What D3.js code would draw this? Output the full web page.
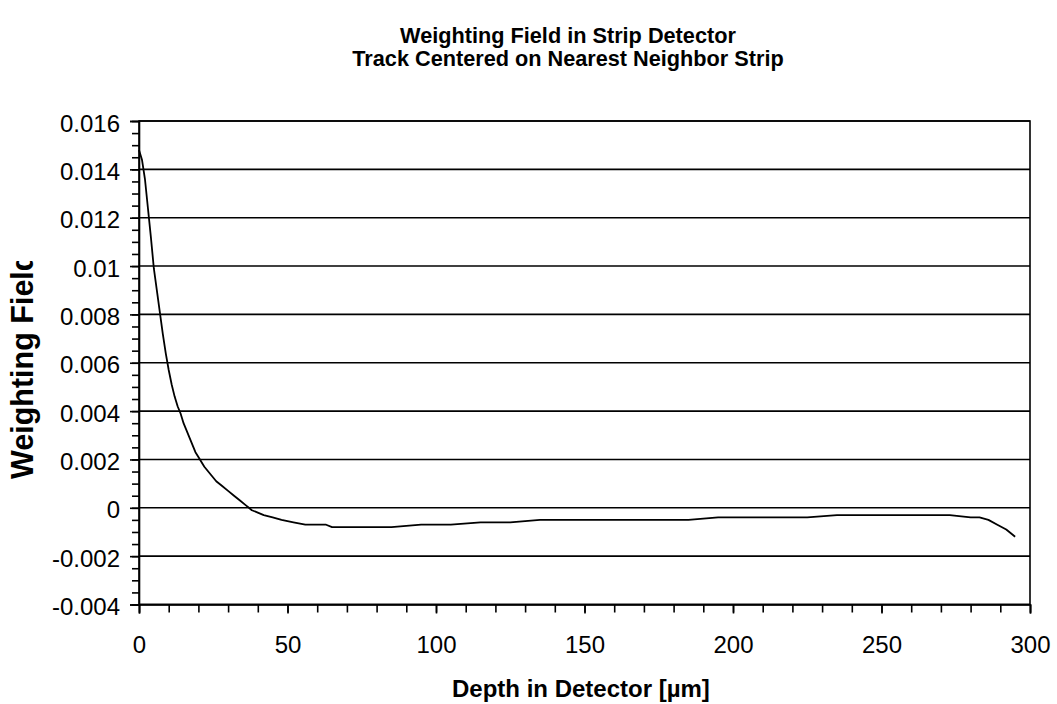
<!DOCTYPE html>
<html lang="en">
<head>
    <meta charset="UTF-8">
    <title>Weighting Field in Strip Detector</title>
    <script src="https://d3js.org/d3.v7.min.js"></script>
    <style>
        body { margin: 0; background: #fff; }
        text { font-family: Arial, 'Liberation Sans', sans-serif; fill: #000; }
        text.title { font-weight: bold; font-size: 21.7px; text-anchor: middle; }
        text.axis-label { font-weight: bold; font-size: 24px; }
        text.y-label { font-weight: bold; font-size: 30.5px; }
        .tick text { font-size: 24px; }
    </style>
</head>
<body>
<svg height="704" width="1057"></svg>
<script>
    // depth in detector (um) and weighting field
    const depth = [0, 1, 2, 3, 4, 5, 6, 7, 8, 9, 10, 11, 12, 13, 14, 15, 16, 17, 18, 19, 20,
        22, 24, 26, 28, 30, 32, 34, 36, 37, 38, 40, 42, 45, 48, 52, 56, 63, 65, 85, 95, 105,
        115, 125, 135, 145, 155, 185, 195, 225, 235, 273, 280, 283, 286, 289, 292, 295];
    const field = [0.0148, 0.0144, 0.0136, 0.0124, 0.0112, 0.0099, 0.0090, 0.0081, 0.0072, 0.0064, 0.0057, 0.0051, 0.0046, 0.0042, 0.0039, 0.0035, 0.0032, 0.0029, 0.0026, 0.0023, 0.0021,
        0.0017, 0.0014, 0.0011, 0.0009, 0.0007, 0.0005, 0.0003, 0.0001, 0.0000, -0.0001, -0.0002, -0.0003, -0.0004, -0.0005, -0.0006, -0.0007, -0.0007, -0.0008, -0.0008, -0.0007, -0.0007,
        -0.0006, -0.0006, -0.0005, -0.0005, -0.0005, -0.0005, -0.0004, -0.0004, -0.0003, -0.0003, -0.0004, -0.0004, -0.0005, -0.0007, -0.0009, -0.0012];
    const yTicks = [-0.004, -0.002, 0, 0.002, 0.004, 0.006, 0.008, 0.01, 0.012, 0.014, 0.016];
    const xTicks = [0, 50, 100, 150, 200, 250, 300];

    const svg = d3.select("svg");
    const plotL = 139, plotR = 1030, plotT = 121, plotB = 604.5;

    const x = d3.scaleLinear().domain([0, 300]).range([plotL, plotR]);
    const y = d3.scaleLinear().domain([-0.004, 0.016]).range([plotB, plotT]);

    // gridlines
    svg.append("g").selectAll("line").data(yTicks).enter().append("line")
        .attr("x1", plotL).attr("x2", plotR)
        .attr("y1", y).attr("y2", y)
        .attr("stroke", "#000").attr("stroke-width", 1.6);

    // frame
    svg.append("rect").attr("x", plotL).attr("y", plotT)
        .attr("width", plotR - plotL).attr("height", plotB - plotT)
        .attr("fill", "none").attr("stroke", "#000").attr("stroke-width", 1.6);

    // minor ticks
    svg.append("g").attr("transform", `translate(${plotL},0)`)
        .call(d3.axisLeft(y).ticks(50).tickSize(7).tickFormat(""))
        .call(g => g.select(".domain").remove());
    svg.append("g").attr("transform", `translate(0,${plotB})`)
        .call(d3.axisBottom(x).ticks(30).tickSize(8).tickFormat(""))
        .call(g => g.select(".domain").remove());

    // major ticks and labels
    svg.append("g").attr("transform", `translate(${plotL},0)`)
        .call(d3.axisLeft(y).tickValues(yTicks).tickSize(9).tickPadding(10)
            .tickFormat(d => String(+d.toFixed(3))))
        .call(g => g.select(".domain").attr("stroke-width", 1.6))
        .call(g => g.selectAll(".tick text").attr("dy", "0.42em"));
    svg.append("g").attr("transform", `translate(0,${plotB})`)
        .call(d3.axisBottom(x).tickValues(xTicks).tickSize(9).tickPadding(22))
        .call(g => g.select(".domain").attr("stroke-width", 1.6));

    svg.selectAll(".tick line").attr("stroke-width", 1.6);

    // curve
    const pts = depth.map((d, i) => [d, field[i]]);
    svg.append("path").datum(pts)
        .attr("fill", "none").attr("stroke", "#000").attr("stroke-width", 1.8)
        .attr("stroke-linejoin", "round")
        .attr("d", d3.line().x(d => x(d[0])).y(d => y(d[1])));

    // titles
    svg.append("text").attr("class", "title").attr("x", 568).attr("y", 43)
        .text("Weighting Field in Strip Detector");
    svg.append("text").attr("class", "title").attr("x", 568).attr("y", 66)
        .text("Track Centered on Nearest Neighbor Strip");
    svg.append("text").attr("class", "axis-label").attr("x", 452).attr("y", 697)
        .text("Depth in Detector [µm]");

    // y label is cut off at the top, as in the original
    svg.append("clipPath").attr("id", "yclip")
        .append("rect").attr("x", 0).attr("y", 261).attr("width", 60).attr("height", 300);
    svg.append("g").attr("clip-path", "url(#yclip)")
        .append("text").attr("class", "y-label")
        .attr("transform", "translate(33,479) rotate(-90)")
        .text("Weighting Field");
</script>
</body>
</html>
